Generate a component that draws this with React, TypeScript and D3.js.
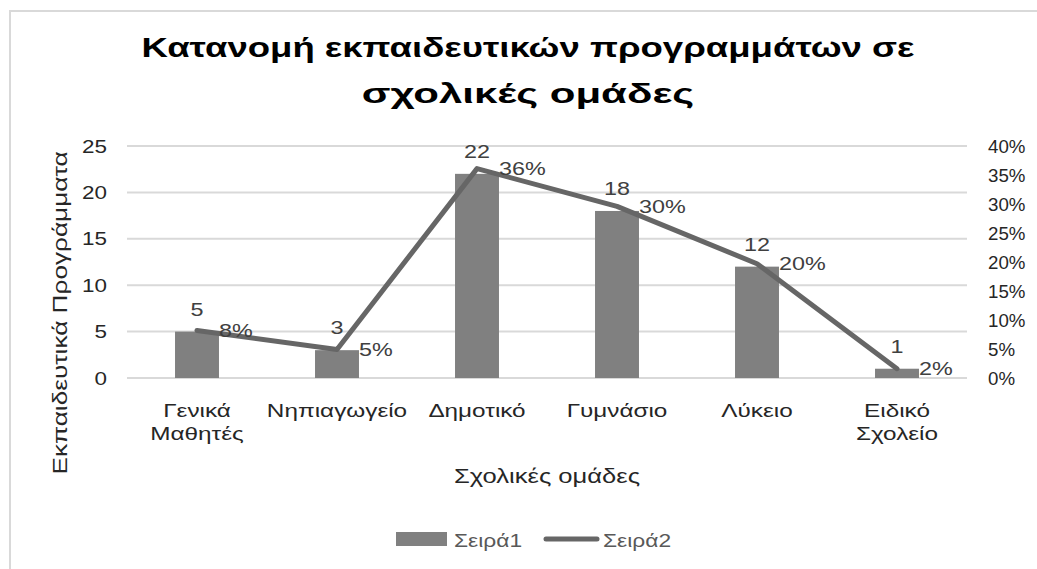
import React from "react";
import * as d3 from "d3";

const categories: string[][] = [
  ["Γενικά", "Μαθητές"],
  ["Νηπιαγωγείο"],
  ["Δημοτικό"],
  ["Γυμνάσιο"],
  ["Λύκειο"],
  ["Ειδικό", "Σχολείο"],
];
const series1: number[] = [5, 3, 22, 18, 12, 1];
const series2: number[] = [0.082, 0.049, 0.361, 0.296, 0.197, 0.016];
const leftTicks: number[] = [0, 5, 10, 15, 20, 25];
const rightTicks: number[] = [0, 0.05, 0.1, 0.15, 0.2, 0.25, 0.3, 0.35, 0.4];
const seriesNames: string[] = ["Σειρά1", "Σειρά2"];
const titleLines: string[] = ["Κατανομή εκπαιδευτικών προγραμμάτων σε", "σχολικές ομάδες"];
const xTitle = "Σχολικές ομάδες";
const yTitle = "Εκπαιδευτικά  Προγράμματα";

const W = 1037;
const H = 569;
const FONT = "Arial, 'Liberation Sans', sans-serif";

type STProps = {
  x: number;
  y: number;
  sx?: number;
  rot?: number;
  anchor?: "start" | "middle" | "end";
  size: number;
  fill: string;
  weight?: string;
  dy?: string;
  children: React.ReactNode;
};

function ST({ x, y, sx = 1, rot = 0, anchor = "start", size, fill, weight, dy, children }: STProps) {
  return (
    <text
      transform={`translate(${x},${y})${rot ? ` rotate(${rot})` : ""} scale(${sx},1)`}
      textAnchor={anchor}
      fontSize={size}
      fill={fill}
      fontWeight={weight}
      dy={dy}
    >
      {children}
    </text>
  );
}

export default function App() {
  const keys = categories.map((c) => c.join(" "));
  const x = d3.scaleBand<string>().domain(keys).range([127, 967]).paddingInner(0.686).paddingOuter(0.343);
  const y = d3.scaleLinear().domain([0, 25]).range([378, 146]);
  const y2 = d3.scaleLinear().domain([0, 0.4]).range([378, 146]);
  const cx = (i: number) => (x(keys[i]) as number) + x.bandwidth() / 2;
  const line = d3
    .line<number>()
    .x((_, i) => cx(i))
    .y((d) => y2(d));
  const pct = d3.format(".0%");
  const titleStretch = [1.306, 1.5];

  return (
    <svg
      width={W}
      height={H}
      style={{ position: "absolute", left: 0, top: 0, background: "#fff" }}
      fontFamily={FONT}
    >
      <rect x={0} y={0} width={W} height={H} fill="#fff" />
      <rect x={10} y={11} width={W + 20} height={H + 20} fill="none" stroke="#d9d9d9" strokeWidth={2} />

      {titleLines.map((t, i) => (
        <ST key={i} x={528} y={57 + i * 46} anchor="middle" size={28} weight="bold" fill="#000" sx={titleStretch[i]}>
          {t}
        </ST>
      ))}

      {leftTicks.map((t) => (
        <line key={"g" + t} x1={127} x2={967} y1={y(t)} y2={y(t)} stroke="#d9d9d9" strokeWidth={2} />
      ))}
      {leftTicks.map((t) => (
        <ST key={"l" + t} x={107} y={y(t)} dy="0.35em" anchor="end" size={18.7} fill="#262626" sx={1.2}>
          {t}
        </ST>
      ))}
      {rightTicks.map((t) => (
        <ST key={"r" + t} x={988} y={y2(t)} dy="0.35em" anchor="start" size={18.7} fill="#262626">
          {pct(t)}
        </ST>
      ))}

      {series1.map((v, i) => (
        <rect key={"b" + i} x={x(keys[i])} y={y(v)} width={x.bandwidth()} height={y(0) - y(v)} fill="#808080" />
      ))}

      <path d={line(series2) || ""} fill="none" stroke="#666666" strokeWidth={5} strokeLinejoin="round" strokeLinecap="round" />

      {series1.map((v, i) => (
        <ST key={"bl" + i} x={cx(i)} y={y(v) - 16} anchor="middle" size={18.7} fill="#404040" sx={1.25}>
          {v}
        </ST>
      ))}
      {series2.map((v, i) => (
        <ST key={"ll" + i} x={cx(i) + 22} y={y2(v)} dy="0.35em" anchor="start" size={18.7} fill="#404040" sx={1.25}>
          {pct(v)}
        </ST>
      ))}

      {categories.map((c, i) => (
        <ST key={"c" + i} x={cx(i)} y={417} anchor="middle" size={18.7} fill="#262626" sx={1.3}>
          {c.map((s, j) => (
            <tspan key={j} x={0} dy={j === 0 ? 0 : 23}>
              {s}
            </tspan>
          ))}
        </ST>
      ))}

      <ST x={547} y={483} anchor="middle" size={20} fill="#262626" sx={1.28}>
        {xTitle}
      </ST>
      <ST x={67} y={313} rot={-90} anchor="middle" size={20} fill="#262626" sx={1.31}>
        {yTitle}
      </ST>

      <rect x={396} y={532} width={51} height={14} fill="#808080" />
      <ST x={454} y={547} size={18.7} fill="#595959" sx={1.22}>
        {seriesNames[0]}
      </ST>
      <line x1={546} x2={597} y1={539} y2={539} stroke="#666666" strokeWidth={5} strokeLinecap="round" />
      <ST x={603} y={547} size={18.7} fill="#595959" sx={1.22}>
        {seriesNames[1]}
      </ST>
    </svg>
  );
}
